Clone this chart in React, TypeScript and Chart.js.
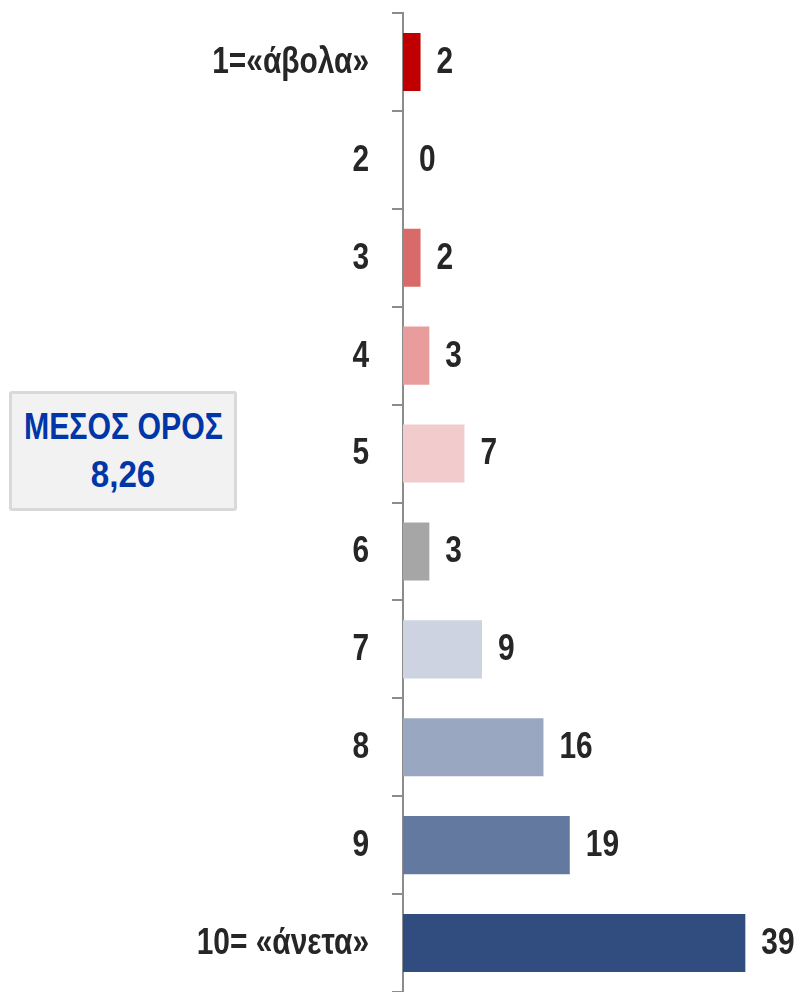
import React, { useEffect, useRef } from "react";
import { Chart, registerables } from "chart.js";

Chart.register(...registerables);

const categories = ["1=«άβολα»", "2", "3", "4", "5", "6", "7", "8", "9", "10= «άνετα»"];
const values = [2, 0, 2, 3, 7, 3, 9, 16, 19, 39];
const barColors = [
  "#C00000",
  "#D96A6A",
  "#D96A6A",
  "#E89C9C",
  "#F2CBCD",
  "#A6A6A6",
  "#CDD3E1",
  "#9AA7C1",
  "#6479A0",
  "#314D80",
];
const meanLabel = "ΜΕΣΟΣ ΟΡΟΣ";
const meanValue = "8,26";

const FONT = "'Liberation Sans', Arial, sans-serif";
const TEXT = "#262626";
const AXIS = "#8C8C8C";
const SQUEEZE = 0.83;

function drawNarrow(ctx: any, text: string, x: number, y: number, align: string) {
  ctx.save();
  ctx.translate(x, y);
  ctx.scale(SQUEEZE, 1);
  ctx.textAlign = align;
  ctx.fillText(text, 0, 0);
  ctx.restore();
}

const narrowLabels = {
  id: "narrowLabels",
  afterDatasetsDraw(chart: any) {
    const ctx = chart.ctx;
    const meta = chart.getDatasetMeta(0);
    const yScale = chart.scales.y;
    ctx.save();
    ctx.font = `bold 36px ${FONT}`;
    ctx.fillStyle = TEXT;
    ctx.textBaseline = "middle";
    meta.data.forEach((bar: any, i: number) => {
      drawNarrow(ctx, String(values[i]), bar.x + 16, bar.y + 1, "left");
    });
    categories.forEach((c, i) => {
      const y = yScale.getPixelForValue(i);
      drawNarrow(ctx, c, yScale.right - 34, y + 1, "right");
    });
    ctx.restore();
  },
};

export default function App() {
  const ref = useRef<HTMLCanvasElement | null>(null);
  useEffect(() => {
    document.body.style.margin = "0";
    if (!ref.current) return;
    const chart = new Chart(ref.current, {
      type: "bar",
      data: {
        labels: categories,
        datasets: [
          {
            data: values,
            backgroundColor: barColors,
            borderWidth: 0,
            barPercentage: 0.593,
            categoryPercentage: 1,
          },
        ],
      },
      options: {
        indexAxis: "y",
        animation: false,
        responsive: false,
        maintainAspectRatio: false,
        layout: { padding: { top: 13, bottom: 0, left: 0, right: 2 } },
        plugins: {
          legend: { display: false },
          tooltip: { enabled: false },
        },
        scales: {
          x: {
            display: false,
            min: 0,
            max: 45,
          },
          y: {
            offset: true,
            grid: {
              display: true,
              drawOnChartArea: false,
              drawTicks: true,
              tickLength: 11,
              color: AXIS,
              lineWidth: 2,
              offset: true,
            },
            border: { display: true, color: AXIS, width: 2 },
            ticks: { display: false },
            afterFit(scale: any) {
              scale.width = 403;
              scale.paddingTop = 0;
              scale.paddingBottom = 0;
            },
          },
        },
      },
      plugins: [narrowLabels],
    } as any);
    return () => chart.destroy();
  }, []);

  const lineStyle = (s: number): React.CSSProperties => ({
    transform: `scaleX(${s})`,
    whiteSpace: "nowrap",
    lineHeight: "48px",
  });

  return (
    <div style={{ position: "relative", width: 800, height: 992 }}>
      <canvas ref={ref} width={800} height={992} style={{ display: "block" }} />
      <div
        style={{
          position: "absolute",
          left: 9,
          top: 391,
          width: 228,
          height: 120,
          boxSizing: "border-box",
          border: "3px solid #D9D9D9",
          borderRadius: 3,
          background: "#F2F2F2",
          display: "flex",
          flexDirection: "column",
          justifyContent: "center",
          alignItems: "center",
          fontFamily: FONT,
          fontWeight: "bold",
          fontSize: 36,
          color: "#0036A8",
        }}
      >
        <div style={lineStyle(0.84)}>{meanLabel}</div>
        <div style={lineStyle(0.92)}>{meanValue}</div>
      </div>
    </div>
  );
}
